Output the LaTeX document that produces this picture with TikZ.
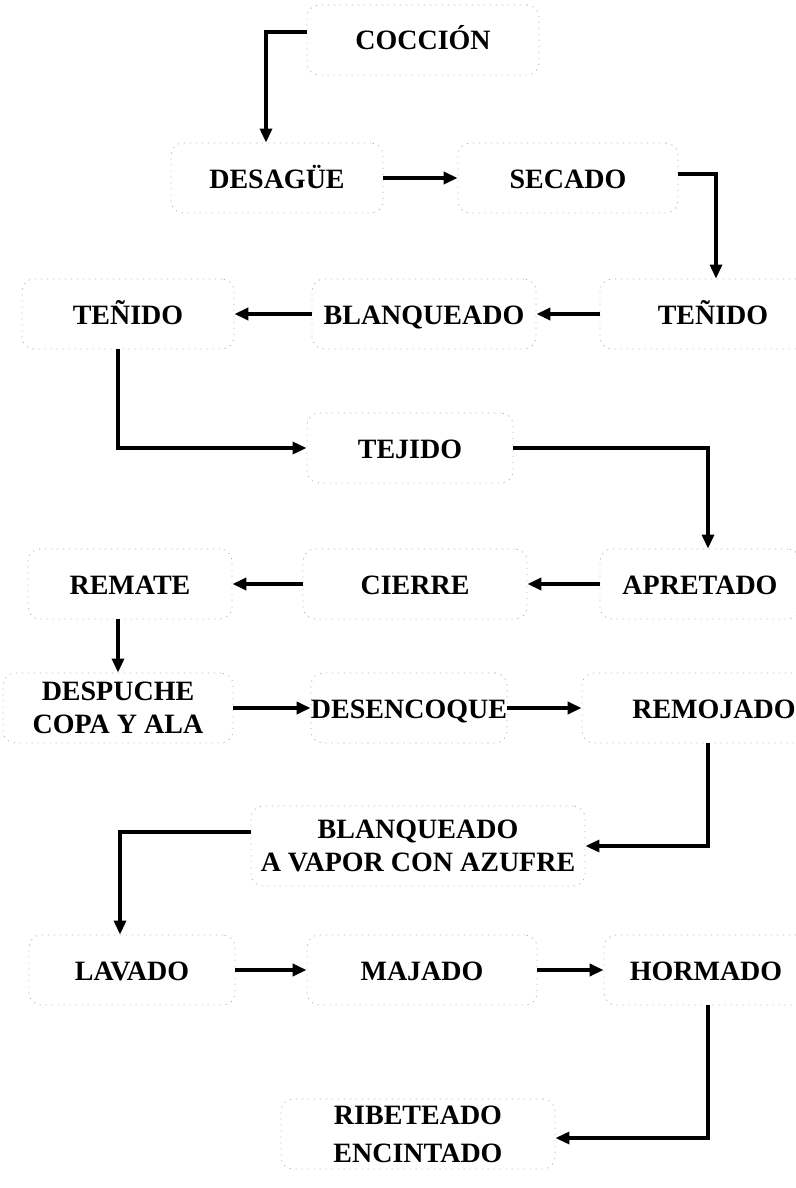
\documentclass[tikz,border=0pt]{standalone}
\usepackage{fontspec}
\setmainfont{Liberation Serif}
\usetikzlibrary{arrows.meta}
\begin{document}
\begin{tikzpicture}[x=0.5pt,y=-0.5pt,
  proc/.style={draw=black!30, dash pattern=on 0.6pt off 2.4pt, rounded corners=6pt,
    minimum height=35pt, align=center, inner sep=0pt,
    font=\fontsize{14}{16.5}\selectfont\bfseries},
  one/.style={text height=10pt, text depth=0pt},
  flow/.style={line width=2.2pt, -{Triangle[length=7pt,width=6pt]}},
  link/.style={line width=1.6pt, -{Triangle[length=7pt,width=6pt]}}]
\useasboundingbox (0,0) rectangle (796,1188);
\node[proc, one, minimum width=116pt] (coc) at (423,40) {COCCIÓN};
\node[proc, one, minimum width=106pt] (des) at (277,178) {DESAGÜE};
\node[proc, one, minimum width=110pt] (sec) at (568,178) {SECADO};
\node[proc, one, minimum width=113pt] (ten2) at (713,314) {TEÑIDO};
\node[proc, one, minimum width=112pt] (bla) at (424,314) {BLANQUEADO};
\node[proc, one, minimum width=106pt] (ten1) at (128,314) {TEÑIDO};
\node[proc, one, minimum width=103pt] (tej) at (410,448) {TEJIDO};
\node[proc, one, minimum width=100pt] (apr) at (700,584) {APRETADO};
\node[proc, one, minimum width=112pt] (cie) at (415,584) {CIERRE};
\node[proc, one, minimum width=102pt] (rem) at (130,584) {REMATE};
\node[proc, minimum width=115pt] (desp) at (118,708) {DESPUCHE\\COPA Y ALA};
\node[proc, one, minimum width=98pt] (denc) at (409,708) {DESENCOQUE};
\node[proc, one, minimum width=132pt] (remo) at (714,708) {REMOJADO};
\node[proc, minimum width=167pt, minimum height=40pt] (bav) at (418,846) {BLANQUEADO\\A VAPOR CON AZUFRE};
\node[proc, one, minimum width=103pt] (lav) at (132,970) {LAVADO};
\node[proc, one, minimum width=115pt] (maj) at (422,970) {MAJADO};
\node[proc, one, minimum width=102pt] (hor) at (706,970) {HORMADO};
\node[proc, minimum width=137pt, font=\fontsize{14}{19}\selectfont\bfseries] (rib) at (418,1134) {RIBETEADO\\ENCINTADO};

\draw[link] ([yshift=4pt]coc.west) -| ([xshift=-5.5pt]des.north);
\draw[flow] (des.east) -- (sec.west);
\draw[link] ([yshift=2pt]sec.east) -| ([xshift=1.5pt]ten2.north);
\draw[flow] (ten2.west) -- (bla.east);
\draw[flow] (bla.west) -- (ten1.east);
\draw[link] ([xshift=-5pt]ten1.south) |- (tej.west);
\draw[link] (tej.east) -| ([xshift=4pt]apr.north);
\draw[flow] (apr.west) -- (cie.east);
\draw[flow] (cie.west) -- (rem.east);
\draw[link] ([xshift=-6pt]rem.south) -- ([xshift=-6pt]rem.south |- desp.north);
\draw[flow] (desp.east) -- (denc.west);
\draw[flow] (denc.east) -- (remo.west);
\draw[link] ([xshift=-3pt]remo.south) |- (bav.east);
\draw[link] ([yshift=7pt]bav.west) -| ([xshift=-6pt]lav.north);
\draw[flow] (lav.east) -- (maj.west);
\draw[flow] (maj.east) -- (hor.west);
\draw[link] ([xshift=1pt]hor.south) |- ([yshift=-2pt]rib.east);
\end{tikzpicture}
\end{document}
